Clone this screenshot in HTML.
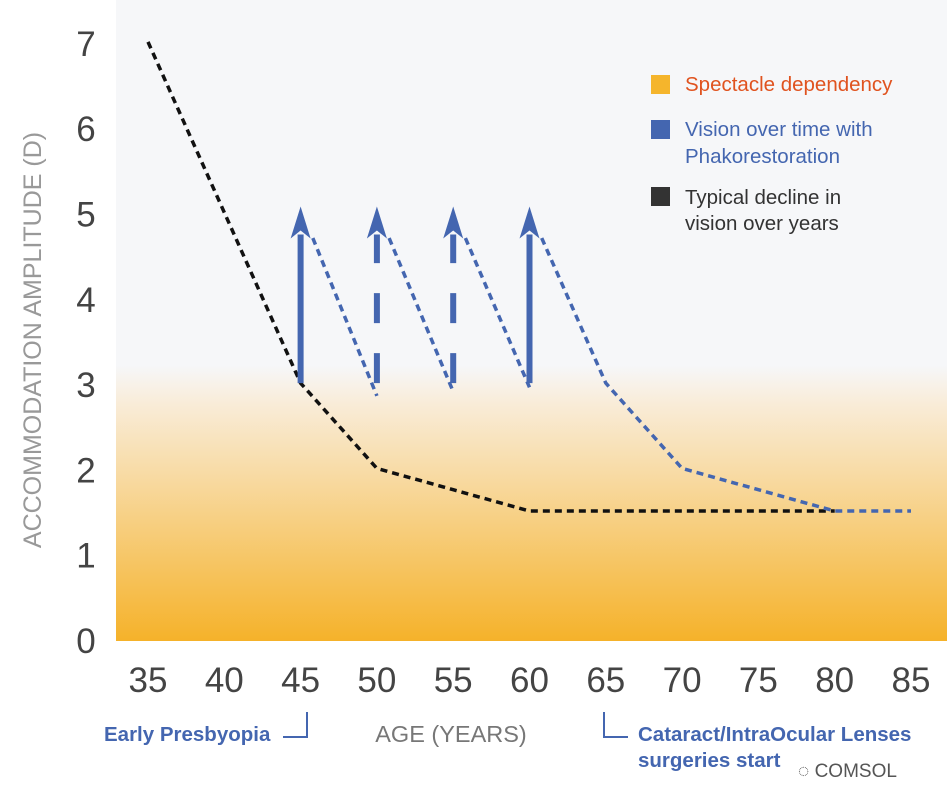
<!DOCTYPE html>
<html><head><meta charset="utf-8">
<style>
body{margin:0;width:951px;height:808px;background:#fff;overflow:hidden;font-family:"Liberation Sans",sans-serif;}
svg{display:block}
</style></head><body>
<svg width="951" height="808" viewBox="0 0 951 808">
<defs>
<linearGradient id="bg" x1="0" y1="0" x2="0" y2="1">
<stop offset="0" stop-color="#f6f7f9"/>
<stop offset="0.57" stop-color="#f6f7f9"/>
<stop offset="0.63" stop-color="#f9ecd8"/>
<stop offset="1" stop-color="#f5b22a"/>
</linearGradient>
</defs>
<rect x="116" y="0" width="831" height="641" fill="url(#bg)"/>
<g id="axes"></g>
<g id="marks"></g>
<g font-size="20.5">
<rect x="651" y="75" width="19" height="19" fill="#f5b52c"/>
<text x="685" y="91" fill="#e0531f">Spectacle dependency</text>
<rect x="651" y="120" width="19" height="19" fill="#4466b0"/>
<text x="685" y="136" fill="#4466b0">Vision over time with</text>
<text x="685" y="163" fill="#4466b0">Phakorestoration</text>
<rect x="651" y="187" width="19" height="19" fill="#333"/>
<text x="685" y="204" fill="#333">Typical decline in</text>
<text x="685" y="230" fill="#333">vision over years</text>
</g>
<text x="451" y="742" text-anchor="middle" font-size="23.5" fill="#777">AGE (YEARS)</text>
<text transform="translate(41,340) rotate(-90)" text-anchor="middle" font-size="25" fill="#999">ACCOMMODATION AMPLITUDE (D)</text>
<text x="104" y="741" font-size="20.5" font-weight="bold" fill="#4466b0">Early Presbyopia</text>
<path d="M283 737 H307 V712" fill="none" stroke="#4466b0" stroke-width="2"/>
<path d="M604 712 V737 H628" fill="none" stroke="#4466b0" stroke-width="2"/>
<text x="638" y="741" font-size="20.5" font-weight="bold" fill="#4466b0">Cataract/IntraOcular Lenses</text>
<text x="638" y="767" font-size="20.5" font-weight="bold" fill="#4466b0">surgeries start</text>
<text x="798" y="777" font-size="19" fill="#555">◌ COMSOL</text>
</svg>
<script>
const xTicks=[35,40,45,50,55,60,65,70,75,80,85];
const yTicks=[0,1,2,3,4,5,6,7];
const typicalX=[35,45,50,55,60,80];
const typicalY=[7,3,2,1.75,1.5,1.5];
const arrowX=[45,50,55,60];
const arrowFrom=[3,3,3,3];
const arrowTo=[5,5,5,5];
const arrowDashed=[false,true,true,false];
const declineX=[[45.8,50],[50.8,55],[55.8,60],[60.8,65,70,80,85]];
const declineY=[[4.7,2.85],[4.7,2.9],[4.7,2.95],[4.7,3,2,1.5,1.5]];
const X=v=>148+(v-35)*15.26;
const Y=v=>639-85.3*v;
const NS="http://www.w3.org/2000/svg";
const axes=document.getElementById('axes'),marks=document.getElementById('marks');
function mk(t,a,p){const e=document.createElementNS(NS,t);for(const k in a)e.setAttribute(k,a[k]);p.appendChild(e);return e;}
xTicks.forEach(v=>{const t=mk('text',{x:X(v),y:692,'text-anchor':'middle','font-size':35,fill:'#444'},axes);t.textContent=v;

});
yTicks.forEach(v=>{const t=mk('text',{x:86,y:Y(v)+14,'text-anchor':'middle','font-size':35,fill:'#444'},axes);t.textContent=v;

});
const tl=mk('polyline',{points:typicalX.map((x,i)=>X(x)+','+Y(typicalY[i])).join(' '),fill:'none',stroke:'#111','stroke-width':3.5,'stroke-dasharray':'7 5'},marks);


declineX.forEach((xs,j)=>{const l=mk('polyline',{points:xs.map((x,i)=>X(x)+','+Y(declineY[j][i])).join(' '),fill:'none',stroke:'#4466b0','stroke-width':3.5,'stroke-dasharray':'7 5'},marks);

});
arrowX.forEach((x,i)=>{const g=mk('g',{},marks);


const cx=X(x),y0=Y(arrowFrom[i]),y1=Y(arrowTo[i]);
const a={x1:cx,y1:y0,x2:cx,y2:y1+22,stroke:'#4466b0','stroke-width':6};
if(arrowDashed[i])a['stroke-dasharray']='30 30';
mk('line',a,g);
mk('path',{d:`M${cx} ${y1-6} L${cx+10} ${y1+26} L${cx} ${y1+18} L${cx-10} ${y1+26}Z`,fill:'#4466b0'},g);});
</script>
</body></html>
